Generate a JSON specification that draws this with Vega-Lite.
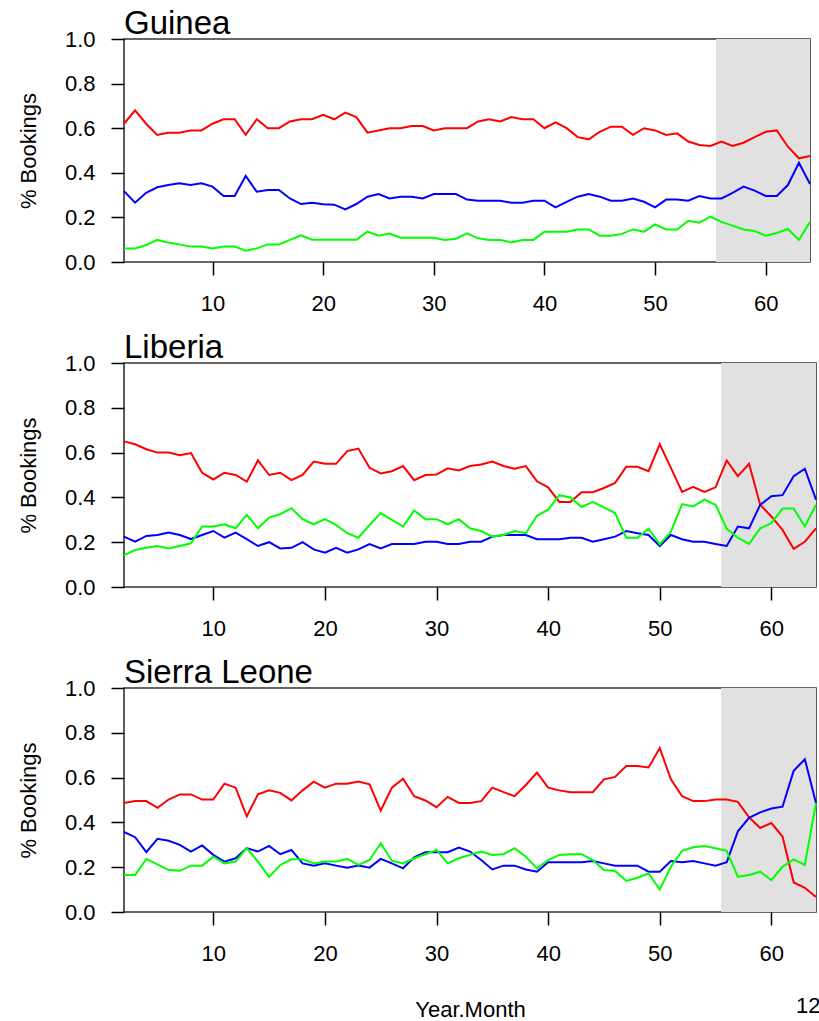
{
  "$schema": "https://vega.github.io/schema/vega-lite/v6.json",
  "padding": {"left": 16, "top": 7, "right": 0, "bottom": 0},
  "background": "white",
  "config": {
    "font": "Liberation Sans",
    "view": {"stroke": "#333333", "strokeWidth": 1.6},
    "axis": {
      "grid": false, "domain": false, "tickColor": "black", "tickWidth": 1.5, "tickSize": 13,
      "labelFontSize": 22, "labelColor": "black", "labelFont": "Liberation Sans",
      "titleFontSize": 22, "titleFontWeight": "normal", "titleColor": "black", "titleFont": "Liberation Sans",
      "labelOverlap": false
    },
    "axisX": {"labelPadding": 18, "labelFlush": false, "titlePadding": 35},
    "axisY": {"labelPadding": 16, "titlePadding": 24},
    "title": {"anchor": "start", "fontSize": 33, "fontWeight": "normal", "color": "black", "font": "Liberation Sans", "baseline": "alphabetic", "offset": -13, "frame": "group"},
    "line": {"strokeWidth": 2}
  },
  "data": {"values": [
{"country":"Guinea","month":2,"a":0.62,"b":0.318,"c":0.061},
{"country":"Guinea","month":3,"a":0.68,"b":0.266,"c":0.061},
{"country":"Guinea","month":4,"a":0.62,"b":0.31,"c":0.076},
{"country":"Guinea","month":5,"a":0.57,"b":0.335,"c":0.099},
{"country":"Guinea","month":6,"a":0.58,"b":0.345,"c":0.087},
{"country":"Guinea","month":7,"a":0.58,"b":0.353,"c":0.079},
{"country":"Guinea","month":8,"a":0.59,"b":0.345,"c":0.069},
{"country":"Guinea","month":9,"a":0.59,"b":0.353,"c":0.069},
{"country":"Guinea","month":10,"a":0.62,"b":0.338,"c":0.061},
{"country":"Guinea","month":11,"a":0.64,"b":0.296,"c":0.069},
{"country":"Guinea","month":12,"a":0.64,"b":0.296,"c":0.069},
{"country":"Guinea","month":13,"a":0.57,"b":0.386,"c":0.051},
{"country":"Guinea","month":14,"a":0.64,"b":0.315,"c":0.061},
{"country":"Guinea","month":15,"a":0.60,"b":0.323,"c":0.079},
{"country":"Guinea","month":16,"a":0.60,"b":0.323,"c":0.079},
{"country":"Guinea","month":17,"a":0.63,"b":0.285,"c":0.099},
{"country":"Guinea","month":18,"a":0.64,"b":0.26,"c":0.12},
{"country":"Guinea","month":19,"a":0.64,"b":0.266,"c":0.10},
{"country":"Guinea","month":20,"a":0.66,"b":0.259,"c":0.10},
{"country":"Guinea","month":21,"a":0.64,"b":0.257,"c":0.10},
{"country":"Guinea","month":22,"a":0.67,"b":0.236,"c":0.10},
{"country":"Guinea","month":23,"a":0.65,"b":0.26,"c":0.10},
{"country":"Guinea","month":24,"a":0.58,"b":0.293,"c":0.136},
{"country":"Guinea","month":25,"a":0.59,"b":0.305,"c":0.118},
{"country":"Guinea","month":26,"a":0.60,"b":0.285,"c":0.128},
{"country":"Guinea","month":27,"a":0.60,"b":0.293,"c":0.109},
{"country":"Guinea","month":28,"a":0.61,"b":0.293,"c":0.109},
{"country":"Guinea","month":29,"a":0.61,"b":0.285,"c":0.109},
{"country":"Guinea","month":30,"a":0.59,"b":0.305,"c":0.109},
{"country":"Guinea","month":31,"a":0.60,"b":0.305,"c":0.099},
{"country":"Guinea","month":32,"a":0.60,"b":0.305,"c":0.104},
{"country":"Guinea","month":33,"a":0.60,"b":0.28,"c":0.128},
{"country":"Guinea","month":34,"a":0.63,"b":0.275,"c":0.106},
{"country":"Guinea","month":35,"a":0.64,"b":0.275,"c":0.099},
{"country":"Guinea","month":36,"a":0.63,"b":0.275,"c":0.099},
{"country":"Guinea","month":37,"a":0.65,"b":0.266,"c":0.088},
{"country":"Guinea","month":38,"a":0.64,"b":0.266,"c":0.099},
{"country":"Guinea","month":39,"a":0.64,"b":0.275,"c":0.099},
{"country":"Guinea","month":40,"a":0.60,"b":0.275,"c":0.136},
{"country":"Guinea","month":41,"a":0.626,"b":0.245,"c":0.136},
{"country":"Guinea","month":42,"a":0.60,"b":0.27,"c":0.136},
{"country":"Guinea","month":43,"a":0.56,"b":0.293,"c":0.146},
{"country":"Guinea","month":44,"a":0.55,"b":0.305,"c":0.146},
{"country":"Guinea","month":45,"a":0.584,"b":0.293,"c":0.118},
{"country":"Guinea","month":46,"a":0.607,"b":0.275,"c":0.118},
{"country":"Guinea","month":47,"a":0.607,"b":0.275,"c":0.126},
{"country":"Guinea","month":48,"a":0.57,"b":0.285,"c":0.146},
{"country":"Guinea","month":49,"a":0.60,"b":0.27,"c":0.136},
{"country":"Guinea","month":50,"a":0.59,"b":0.245,"c":0.169},
{"country":"Guinea","month":51,"a":0.57,"b":0.28,"c":0.146},
{"country":"Guinea","month":52,"a":0.577,"b":0.28,"c":0.146},
{"country":"Guinea","month":53,"a":0.54,"b":0.275,"c":0.185},
{"country":"Guinea","month":54,"a":0.525,"b":0.296,"c":0.176},
{"country":"Guinea","month":55,"a":0.52,"b":0.285,"c":0.203},
{"country":"Guinea","month":56,"a":0.54,"b":0.285,"c":0.18},
{"country":"Guinea","month":57,"a":0.52,"b":0.31,"c":0.163},
{"country":"Guinea","month":58,"a":0.535,"b":0.338,"c":0.146},
{"country":"Guinea","month":59,"a":0.56,"b":0.32,"c":0.139},
{"country":"Guinea","month":60,"a":0.584,"b":0.296,"c":0.118},
{"country":"Guinea","month":61,"a":0.59,"b":0.296,"c":0.13},
{"country":"Guinea","month":62,"a":0.517,"b":0.345,"c":0.148},
{"country":"Guinea","month":63,"a":0.465,"b":0.445,"c":0.099},
{"country":"Guinea","month":64,"a":0.475,"b":0.35,"c":0.18},
{"country":"Liberia","month":2,"a":0.65,"b":0.225,"c":0.142},
{"country":"Liberia","month":3,"a":0.637,"b":0.202,"c":0.165},
{"country":"Liberia","month":4,"a":0.615,"b":0.228,"c":0.175},
{"country":"Liberia","month":5,"a":0.60,"b":0.232,"c":0.183},
{"country":"Liberia","month":6,"a":0.60,"b":0.243,"c":0.172},
{"country":"Liberia","month":7,"a":0.588,"b":0.232,"c":0.183},
{"country":"Liberia","month":8,"a":0.598,"b":0.214,"c":0.195},
{"country":"Liberia","month":9,"a":0.51,"b":0.232,"c":0.27},
{"country":"Liberia","month":10,"a":0.48,"b":0.25,"c":0.27},
{"country":"Liberia","month":11,"a":0.51,"b":0.22,"c":0.28},
{"country":"Liberia","month":12,"a":0.50,"b":0.243,"c":0.262},
{"country":"Liberia","month":13,"a":0.47,"b":0.214,"c":0.322},
{"country":"Liberia","month":14,"a":0.565,"b":0.183,"c":0.262},
{"country":"Liberia","month":15,"a":0.50,"b":0.2,"c":0.31},
{"country":"Liberia","month":16,"a":0.51,"b":0.172,"c":0.325},
{"country":"Liberia","month":17,"a":0.477,"b":0.175,"c":0.352},
{"country":"Liberia","month":18,"a":0.50,"b":0.2,"c":0.303},
{"country":"Liberia","month":19,"a":0.56,"b":0.168,"c":0.28},
{"country":"Liberia","month":20,"a":0.55,"b":0.153,"c":0.303},
{"country":"Liberia","month":21,"a":0.55,"b":0.175,"c":0.277},
{"country":"Liberia","month":22,"a":0.607,"b":0.153,"c":0.24},
{"country":"Liberia","month":23,"a":0.618,"b":0.168,"c":0.22},
{"country":"Liberia","month":24,"a":0.532,"b":0.192,"c":0.277},
{"country":"Liberia","month":25,"a":0.507,"b":0.172,"c":0.33},
{"country":"Liberia","month":26,"a":0.517,"b":0.192,"c":0.30},
{"country":"Liberia","month":27,"a":0.54,"b":0.192,"c":0.27},
{"country":"Liberia","month":28,"a":0.477,"b":0.192,"c":0.342},
{"country":"Liberia","month":29,"a":0.50,"b":0.202,"c":0.303},
{"country":"Liberia","month":30,"a":0.502,"b":0.202,"c":0.303},
{"country":"Liberia","month":31,"a":0.53,"b":0.192,"c":0.28},
{"country":"Liberia","month":32,"a":0.52,"b":0.192,"c":0.303},
{"country":"Liberia","month":33,"a":0.54,"b":0.202,"c":0.262},
{"country":"Liberia","month":34,"a":0.547,"b":0.202,"c":0.25},
{"country":"Liberia","month":35,"a":0.56,"b":0.225,"c":0.225},
{"country":"Liberia","month":36,"a":0.54,"b":0.232,"c":0.232},
{"country":"Liberia","month":37,"a":0.528,"b":0.232,"c":0.25},
{"country":"Liberia","month":38,"a":0.54,"b":0.232,"c":0.24},
{"country":"Liberia","month":39,"a":0.472,"b":0.213,"c":0.318},
{"country":"Liberia","month":40,"a":0.445,"b":0.213,"c":0.345},
{"country":"Liberia","month":41,"a":0.38,"b":0.213,"c":0.41},
{"country":"Liberia","month":42,"a":0.38,"b":0.22,"c":0.40},
{"country":"Liberia","month":43,"a":0.423,"b":0.22,"c":0.357},
{"country":"Liberia","month":44,"a":0.423,"b":0.202,"c":0.38},
{"country":"Liberia","month":45,"a":0.442,"b":0.213,"c":0.355},
{"country":"Liberia","month":46,"a":0.465,"b":0.225,"c":0.33},
{"country":"Liberia","month":47,"a":0.537,"b":0.25,"c":0.22},
{"country":"Liberia","month":48,"a":0.537,"b":0.24,"c":0.22},
{"country":"Liberia","month":49,"a":0.517,"b":0.232,"c":0.26},
{"country":"Liberia","month":50,"a":0.637,"b":0.183,"c":0.19},
{"country":"Liberia","month":51,"a":0.532,"b":0.232,"c":0.247},
{"country":"Liberia","month":52,"a":0.424,"b":0.213,"c":0.37},
{"country":"Liberia","month":53,"a":0.447,"b":0.202,"c":0.36},
{"country":"Liberia","month":54,"a":0.424,"b":0.202,"c":0.39},
{"country":"Liberia","month":55,"a":0.445,"b":0.192,"c":0.367},
{"country":"Liberia","month":56,"a":0.565,"b":0.183,"c":0.26},
{"country":"Liberia","month":57,"a":0.495,"b":0.27,"c":0.22},
{"country":"Liberia","month":58,"a":0.55,"b":0.262,"c":0.192},
{"country":"Liberia","month":59,"a":0.367,"b":0.367,"c":0.262},
{"country":"Liberia","month":60,"a":0.315,"b":0.405,"c":0.285},
{"country":"Liberia","month":61,"a":0.255,"b":0.41,"c":0.35},
{"country":"Liberia","month":62,"a":0.17,"b":0.495,"c":0.35},
{"country":"Liberia","month":63,"a":0.202,"b":0.528,"c":0.27},
{"country":"Liberia","month":64,"a":0.262,"b":0.39,"c":0.367},
{"country":"Sierra Leone","month":2,"a":0.487,"b":0.357,"c":0.165},
{"country":"Sierra Leone","month":3,"a":0.495,"b":0.334,"c":0.165},
{"country":"Sierra Leone","month":4,"a":0.495,"b":0.267,"c":0.237},
{"country":"Sierra Leone","month":5,"a":0.465,"b":0.327,"c":0.213},
{"country":"Sierra Leone","month":6,"a":0.502,"b":0.318,"c":0.187},
{"country":"Sierra Leone","month":7,"a":0.525,"b":0.30,"c":0.184},
{"country":"Sierra Leone","month":8,"a":0.525,"b":0.27,"c":0.207},
{"country":"Sierra Leone","month":9,"a":0.502,"b":0.297,"c":0.207},
{"country":"Sierra Leone","month":10,"a":0.502,"b":0.255,"c":0.247},
{"country":"Sierra Leone","month":11,"a":0.573,"b":0.225,"c":0.217},
{"country":"Sierra Leone","month":12,"a":0.555,"b":0.24,"c":0.225},
{"country":"Sierra Leone","month":13,"a":0.427,"b":0.285,"c":0.285},
{"country":"Sierra Leone","month":14,"a":0.525,"b":0.27,"c":0.225},
{"country":"Sierra Leone","month":15,"a":0.543,"b":0.295,"c":0.157},
{"country":"Sierra Leone","month":16,"a":0.532,"b":0.258,"c":0.21},
{"country":"Sierra Leone","month":17,"a":0.498,"b":0.277,"c":0.235},
{"country":"Sierra Leone","month":18,"a":0.543,"b":0.217,"c":0.235},
{"country":"Sierra Leone","month":19,"a":0.582,"b":0.207,"c":0.217},
{"country":"Sierra Leone","month":20,"a":0.555,"b":0.217,"c":0.225},
{"country":"Sierra Leone","month":21,"a":0.573,"b":0.207,"c":0.225},
{"country":"Sierra Leone","month":22,"a":0.573,"b":0.198,"c":0.237},
{"country":"Sierra Leone","month":23,"a":0.582,"b":0.207,"c":0.21},
{"country":"Sierra Leone","month":24,"a":0.57,"b":0.198,"c":0.232},
{"country":"Sierra Leone","month":25,"a":0.453,"b":0.237,"c":0.307},
{"country":"Sierra Leone","month":26,"a":0.555,"b":0.217,"c":0.229},
{"country":"Sierra Leone","month":27,"a":0.595,"b":0.195,"c":0.217},
{"country":"Sierra Leone","month":28,"a":0.517,"b":0.244,"c":0.24},
{"country":"Sierra Leone","month":29,"a":0.498,"b":0.267,"c":0.258},
{"country":"Sierra Leone","month":30,"a":0.468,"b":0.267,"c":0.277},
{"country":"Sierra Leone","month":31,"a":0.514,"b":0.267,"c":0.217},
{"country":"Sierra Leone","month":32,"a":0.487,"b":0.288,"c":0.24},
{"country":"Sierra Leone","month":33,"a":0.487,"b":0.27,"c":0.255},
{"country":"Sierra Leone","month":34,"a":0.495,"b":0.232,"c":0.27},
{"country":"Sierra Leone","month":35,"a":0.555,"b":0.19,"c":0.255},
{"country":"Sierra Leone","month":36,"a":0.535,"b":0.207,"c":0.258},
{"country":"Sierra Leone","month":37,"a":0.517,"b":0.207,"c":0.285},
{"country":"Sierra Leone","month":38,"a":0.567,"b":0.19,"c":0.247},
{"country":"Sierra Leone","month":39,"a":0.622,"b":0.18,"c":0.195},
{"country":"Sierra Leone","month":40,"a":0.555,"b":0.222,"c":0.232},
{"country":"Sierra Leone","month":41,"a":0.543,"b":0.222,"c":0.255},
{"country":"Sierra Leone","month":42,"a":0.535,"b":0.222,"c":0.258},
{"country":"Sierra Leone","month":43,"a":0.535,"b":0.222,"c":0.258},
{"country":"Sierra Leone","month":44,"a":0.535,"b":0.228,"c":0.232},
{"country":"Sierra Leone","month":45,"a":0.592,"b":0.217,"c":0.187},
{"country":"Sierra Leone","month":46,"a":0.603,"b":0.207,"c":0.183},
{"country":"Sierra Leone","month":47,"a":0.652,"b":0.207,"c":0.139},
{"country":"Sierra Leone","month":48,"a":0.652,"b":0.207,"c":0.153},
{"country":"Sierra Leone","month":49,"a":0.645,"b":0.18,"c":0.172},
{"country":"Sierra Leone","month":50,"a":0.732,"b":0.18,"c":0.10},
{"country":"Sierra Leone","month":51,"a":0.592,"b":0.228,"c":0.202},
{"country":"Sierra Leone","month":52,"a":0.517,"b":0.222,"c":0.273},
{"country":"Sierra Leone","month":53,"a":0.495,"b":0.228,"c":0.289},
{"country":"Sierra Leone","month":54,"a":0.495,"b":0.217,"c":0.295},
{"country":"Sierra Leone","month":55,"a":0.502,"b":0.207,"c":0.285},
{"country":"Sierra Leone","month":56,"a":0.502,"b":0.222,"c":0.273},
{"country":"Sierra Leone","month":57,"a":0.492,"b":0.36,"c":0.157},
{"country":"Sierra Leone","month":58,"a":0.423,"b":0.42,"c":0.165},
{"country":"Sierra Leone","month":59,"a":0.375,"b":0.445,"c":0.18},
{"country":"Sierra Leone","month":60,"a":0.397,"b":0.462,"c":0.142},
{"country":"Sierra Leone","month":61,"a":0.337,"b":0.47,"c":0.202},
{"country":"Sierra Leone","month":62,"a":0.132,"b":0.63,"c":0.235},
{"country":"Sierra Leone","month":63,"a":0.108,"b":0.682,"c":0.21},
{"country":"Sierra Leone","month":64,"a":0.067,"b":0.487,"c":0.487}
  ]},
  "spacing": 16,
  "vconcat": [
    {
      "title": "Guinea",
      "width": 686, "height": 223,
      "layer": [
        {"data": {"values": [{"from": 55.5, "to": 64}]},
         "mark": {"type": "rect", "color": "#e1e1e1"},
         "encoding": {"x": {"field": "from", "type": "quantitative"}, "x2": {"field": "to"}}},
        {"transform": [{"filter": "datum.country == 'Guinea'"}, {"fold": ["a", "b", "c"], "as": ["series", "share"]}],
         "mark": {"type": "line"},
         "encoding": {
           "x": {"field": "month", "type": "quantitative", "scale": {"domain": [2, 64], "nice": false, "zero": false}, "axis": {"values": [10, 20, 30, 40, 50, 60], "title": null}},
           "y": {"field": "share", "type": "quantitative", "scale": {"domain": [0, 1], "nice": false}, "axis": {"values": [0, 0.2, 0.4, 0.6, 0.8, 1], "format": ".1f", "title": "% Bookings"}},
           "color": {"field": "series", "type": "nominal", "scale": {"domain": ["a", "b", "c"], "range": ["#ff0000", "#0000ff", "#00ff00"]}, "legend": null}
         }}
      ]
    },
    {
      "title": "Liberia",
      "width": 692, "height": 224,
      "layer": [
        {"data": {"values": [{"from": 55.5, "to": 64}]},
         "mark": {"type": "rect", "color": "#e1e1e1"},
         "encoding": {"x": {"field": "from", "type": "quantitative"}, "x2": {"field": "to"}}},
        {"transform": [{"filter": "datum.country == 'Liberia'"}, {"fold": ["a", "b", "c"], "as": ["series", "share"]}],
         "mark": {"type": "line"},
         "encoding": {
           "x": {"field": "month", "type": "quantitative", "scale": {"domain": [2, 64], "nice": false, "zero": false}, "axis": {"values": [10, 20, 30, 40, 50, 60], "title": null}},
           "y": {"field": "share", "type": "quantitative", "scale": {"domain": [0, 1], "nice": false}, "axis": {"values": [0, 0.2, 0.4, 0.6, 0.8, 1], "format": ".1f", "title": "% Bookings"}},
           "color": {"field": "series", "type": "nominal", "scale": {"domain": ["a", "b", "c"], "range": ["#ff0000", "#0000ff", "#00ff00"]}, "legend": null}
         }}
      ]
    },
    {
      "title": "Sierra Leone",
      "width": 692, "height": 224,
      "layer": [
        {"data": {"values": [{"from": 55.5, "to": 64}]},
         "mark": {"type": "rect", "color": "#e1e1e1"},
         "encoding": {"x": {"field": "from", "type": "quantitative"}, "x2": {"field": "to"}}},
        {"transform": [{"filter": "datum.country == 'Sierra Leone'"}, {"fold": ["a", "b", "c"], "as": ["series", "share"]}],
         "mark": {"type": "line"},
         "encoding": {
           "x": {"field": "month", "type": "quantitative", "scale": {"domain": [2, 64], "nice": false, "zero": false}, "axis": {"values": [10, 20, 30, 40, 50, 60], "title": "Year.Month"}},
           "y": {"field": "share", "type": "quantitative", "scale": {"domain": [0, 1], "nice": false}, "axis": {"values": [0, 0.2, 0.4, 0.6, 0.8, 1], "format": ".1f", "title": "% Bookings"}},
           "color": {"field": "series", "type": "nominal", "scale": {"domain": ["a", "b", "c"], "range": ["#ff0000", "#0000ff", "#00ff00"]}, "legend": null}
         }},
        {"data": {"values": [{"label": "12"}]},
         "mark": {"type": "text", "align": "left", "baseline": "alphabetic", "fontSize": 22, "color": "black", "clip": false},
         "encoding": {"text": {"field": "label"}, "x": {"datum": 62.2, "type": "quantitative"}, "y": {"datum": -0.45, "type": "quantitative"}}}
      ]
    }
  ]
}
